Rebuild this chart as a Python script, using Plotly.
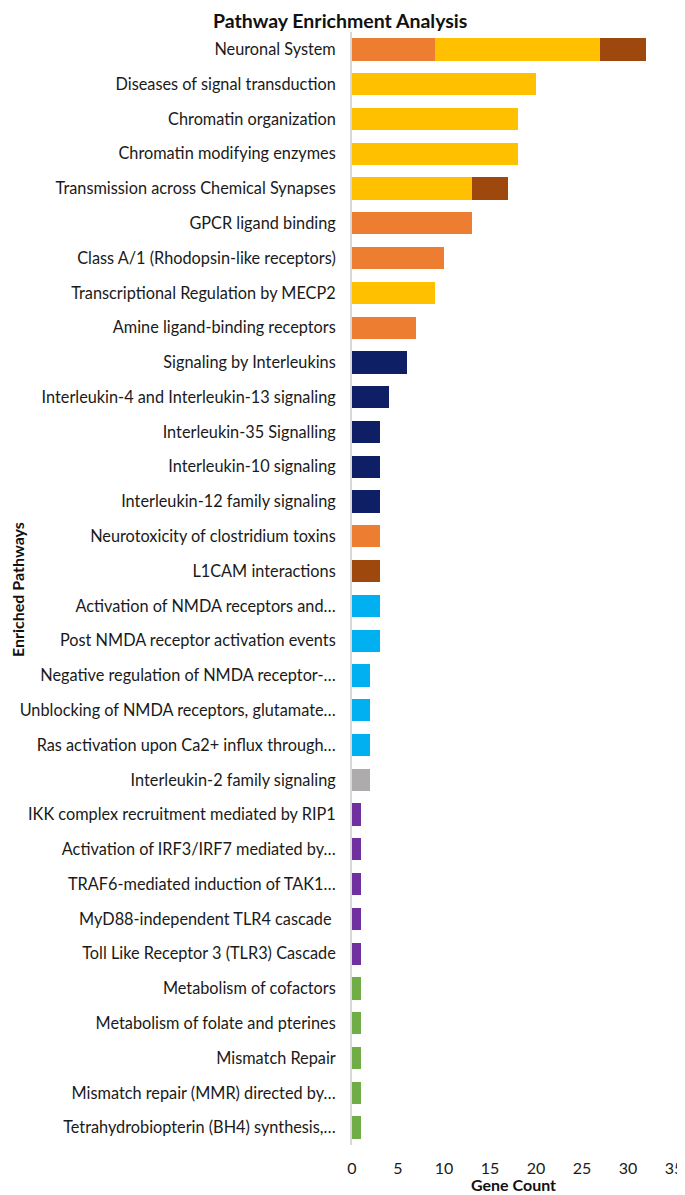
import plotly.graph_objects as go

pathways = [
    "Neuronal System",
    "Diseases of signal transduction",
    "Chromatin organization",
    "Chromatin modifying enzymes",
    "Transmission across Chemical Synapses",
    "GPCR ligand binding",
    "Class A/1 (Rhodopsin-like receptors)",
    "Transcriptional Regulation by MECP2",
    "Amine ligand-binding receptors",
    "Signaling by Interleukins",
    "Interleukin-4 and Interleukin-13 signaling",
    "Interleukin-35 Signalling",
    "Interleukin-10 signaling",
    "Interleukin-12 family signaling",
    "Neurotoxicity of clostridium toxins",
    "L1CAM interactions",
    "Activation of NMDA receptors and…",
    "Post NMDA receptor activation events",
    "Negative regulation of NMDA receptor-…",
    "Unblocking of NMDA receptors, glutamate…",
    "Ras activation upon Ca2+ influx through…",
    "Interleukin-2 family signaling",
    "IKK complex recruitment mediated by RIP1",
    "Activation of IRF3/IRF7 mediated by…",
    "TRAF6-mediated induction of TAK1…",
    "MyD88-independent TLR4 cascade ",
    "Toll Like Receptor 3 (TLR3) Cascade",
    "Metabolism of cofactors",
    "Metabolism of folate and pterines",
    "Mismatch Repair",
    "Mismatch repair (MMR) directed by…",
    "Tetrahydrobiopterin (BH4) synthesis,…",
]

# gene counts per colour group, one entry per pathway (top to bottom)
orange = [9, 0, 0, 0, 0, 13, 10, 0, 7, 0, 0, 0, 0, 0, 3, 0,
          0, 0, 0, 0, 0, 0, 0, 0, 0, 0, 0, 0, 0, 0, 0, 0]
gold = [18, 20, 18, 18, 13, 0, 0, 9, 0, 0, 0, 0, 0, 0, 0, 0,
        0, 0, 0, 0, 0, 0, 0, 0, 0, 0, 0, 0, 0, 0, 0, 0]
brown = [5, 0, 0, 0, 4, 0, 0, 0, 0, 0, 0, 0, 0, 0, 0, 3,
         0, 0, 0, 0, 0, 0, 0, 0, 0, 0, 0, 0, 0, 0, 0, 0]
navy = [0, 0, 0, 0, 0, 0, 0, 0, 0, 6, 4, 3, 3, 3, 0, 0,
        0, 0, 0, 0, 0, 0, 0, 0, 0, 0, 0, 0, 0, 0, 0, 0]
lightblue = [0, 0, 0, 0, 0, 0, 0, 0, 0, 0, 0, 0, 0, 0, 0, 0,
             3, 3, 2, 2, 2, 0, 0, 0, 0, 0, 0, 0, 0, 0, 0, 0]
gray = [0, 0, 0, 0, 0, 0, 0, 0, 0, 0, 0, 0, 0, 0, 0, 0,
        0, 0, 0, 0, 0, 2, 0, 0, 0, 0, 0, 0, 0, 0, 0, 0]
purple = [0, 0, 0, 0, 0, 0, 0, 0, 0, 0, 0, 0, 0, 0, 0, 0,
          0, 0, 0, 0, 0, 0, 1, 1, 1, 1, 1, 0, 0, 0, 0, 0]
green = [0, 0, 0, 0, 0, 0, 0, 0, 0, 0, 0, 0, 0, 0, 0, 0,
         0, 0, 0, 0, 0, 0, 0, 0, 0, 0, 0, 1, 1, 1, 1, 1]

xticks = [0, 5, 10, 15, 20, 25, 30, 35]

series = [
    (orange, "#ED7D31"),
    (gold, "#FFC000"),
    (brown, "#9E480E"),
    (navy, "#0F1F66"),
    (lightblue, "#00B0F0"),
    (gray, "#ADABAB"),
    (purple, "#7030A0"),
    (green, "#70AD47"),
]

font = "Lato, 'Open Sans', sans-serif"

# the page body adds an 8px offset, so the figure is 8px smaller than the window
W, H = 677, 1187
L, R, T, B = 344, 11, 24, 50
pw, ph = W - L - R, H - T - B

fig = go.Figure()
for vals, col in series:
    fig.add_trace(go.Bar(y=pathways, x=vals, orientation="h",
                         marker=dict(color=col, line=dict(width=0)),
                         width=0.64, showlegend=False))

fig.update_layout(
    barmode="stack",
    width=W, height=H,
    margin=dict(l=L, r=R, t=T, b=B),
    paper_bgcolor="white", plot_bgcolor="white",
    font=dict(family=font, size=16, color="#1a1a1a"),
)
fig.update_yaxes(autorange="reversed", automargin=False, showgrid=False, showline=True,
                 linecolor="#D9D9D9", linewidth=2, ticks="", ticklabelstandoff=11,
                 tickfont=dict(size=16.3))
fig.update_xaxes(range=[0, 35], tickvals=xticks, automargin=False, showgrid=False,
                 showline=False, zeroline=False, ticks="", ticklabelstandoff=12,
                 tickfont=dict(size=16))

# chart title placed as a paper annotation so it sits just above the plot
fig.add_annotation(text="<b>Pathway Enrichment Analysis</b>", xref="paper", yref="paper",
                   x=(332 - L) / pw, y=1 + (T - 13) / ph, xanchor="center",
                   yanchor="middle", showarrow=False, font=dict(size=19.5, color="#111"))
fig.add_annotation(text="<b>Gene Count</b>", xref="paper", yref="paper",
                   x=(505 - L) / pw, y=-(1176 - (H - B)) / ph, yanchor="middle",
                   showarrow=False, font=dict(size=16, color="#111"))
fig.add_annotation(text="<b>Enriched Pathways</b>", xref="paper", yref="paper",
                   x=-(L - 9) / pw, y=((H - B) - 582) / ph, xanchor="center",
                   yanchor="middle", textangle=-90, showarrow=False,
                   font=dict(size=16, color="#111"))

fig.write_html("out.html")
